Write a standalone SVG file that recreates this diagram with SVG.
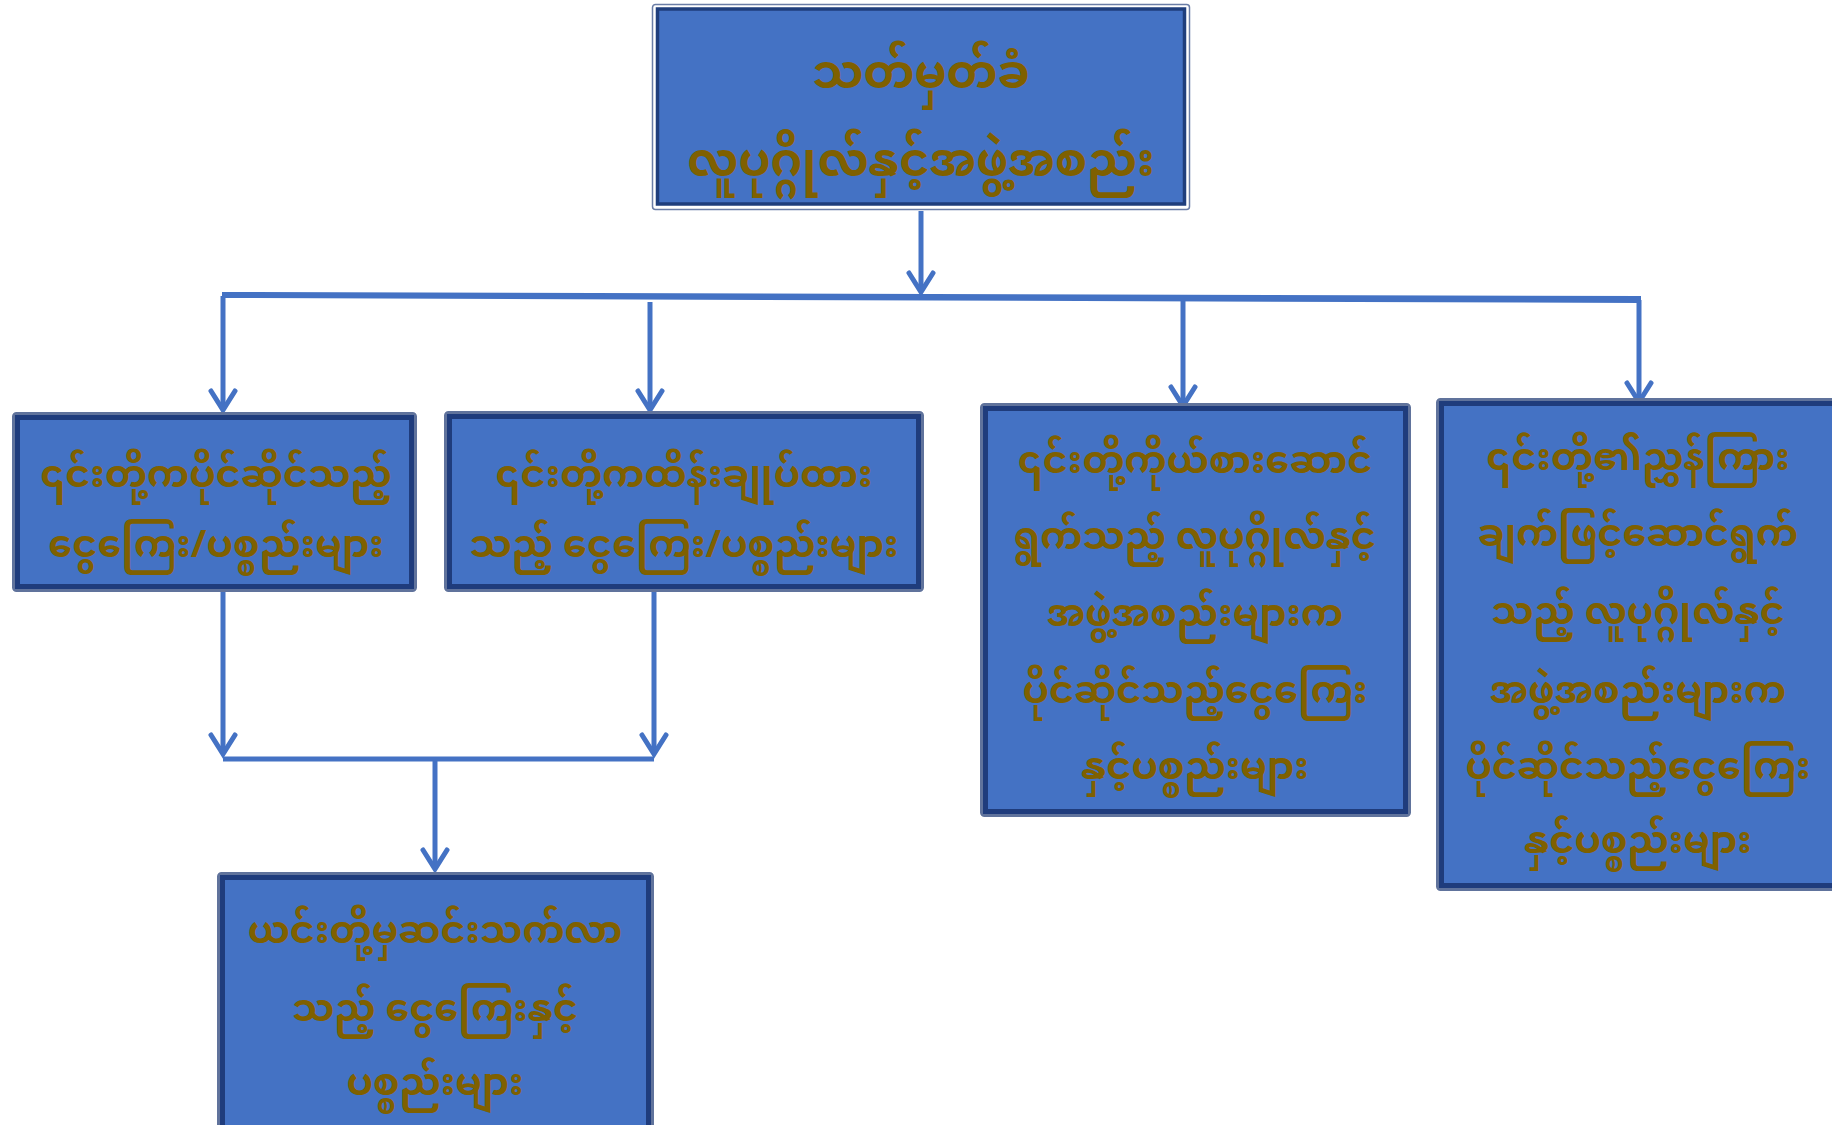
<svg xmlns="http://www.w3.org/2000/svg" width="1832" height="1125" viewBox="0 0 1832 1125">
<defs>
<style>
.outer{fill:none;stroke:#60739c;stroke-width:3}
.box{fill:#4472c4;stroke:#1f3c7c;stroke-width:5}
.t{font-family:"Noto Sans Myanmar","Padauk","Myanmar Text","Noto Sans",sans-serif;font-weight:bold;fill:#7f6000;text-anchor:middle}
.t1{font-size:38px}
.t0{font-size:46px}
.ln{fill:none;stroke:#4472c4;stroke-width:5;stroke-linecap:butt}
.ah{fill:none;stroke:#4472c4;stroke-width:5;stroke-linecap:round;stroke-linejoin:miter}
</style>
</defs>
<rect width="1832" height="1125" fill="#ffffff"/>
<g id="connectors">
<line class="ln" x1="921" y1="211" x2="921" y2="292"/>
<polyline class="ah" points="909,273 921,292 933,273"/>
<polygon points="222,292 1641,296 1641,303 222,298" fill="#4472c4"/>
<line class="ln" x1="223" y1="296" x2="223" y2="410"/>
<polyline class="ah" points="211,391 223,410 235,391"/>
<line class="ln" x1="650" y1="302" x2="650" y2="410"/>
<polyline class="ah" points="638,391 650,410 662,391"/>
<line class="ln" x1="1183" y1="300" x2="1183" y2="406"/>
<polyline class="ah" points="1171,387 1183,406 1195,387"/>
<line class="ln" x1="1639" y1="300" x2="1639" y2="402"/>
<polyline class="ah" points="1627,383 1639,402 1651,383"/>
<line class="ln" x1="223" y1="592" x2="223" y2="754"/>
<polyline class="ah" points="211,735 223,754 235,735"/>
<line class="ln" x1="654" y1="592" x2="654" y2="754"/>
<polyline class="ah" points="642,735 654,754 666,735"/>
<line class="ln" x1="223" y1="759" x2="654" y2="759"/>
<line class="ln" x1="435" y1="759" x2="435" y2="869"/>
<polyline class="ah" points="423,850 435,869 447,850"/>
</g>
<g id="top">
<rect x="652.5" y="4.5" width="537" height="205" rx="3" fill="#ffffff" stroke="#6a7da6" stroke-width="1.5"/>
<rect x="657.5" y="9" width="527" height="195" fill="#4472c4" stroke="#1f3e7c" stroke-width="3.5"/>
<text class="t t0" x="921" y="88">သတ်မှတ်ခံ</text>
<text class="t t0" x="921" y="176">လူပုဂ္ဂိုလ်နှင့်အဖွဲ့အစည်း</text>
</g>
<g id="box1">
<rect class="outer" x="13.5" y="413.5" width="402" height="177" rx="3"/>
<rect class="box" x="17.5" y="417.5" width="394" height="169"/>
<text class="t t1" x="216" y="487">၎င်းတို့ကပိုင်ဆိုင်သည့်</text>
<text class="t t1" x="216" y="557">ငွေကြေး/ပစ္စည်းများ</text>
</g>
<g id="box2">
<rect class="outer" x="445.5" y="412.5" width="477" height="178" rx="3"/>
<rect class="box" x="449.5" y="416.5" width="469" height="170"/>
<text class="t t1" x="684" y="487">၎င်းတို့ကထိန်းချုပ်ထား</text>
<text class="t t1" x="684" y="557">သည့် ငွေကြေး/ပစ္စည်းများ</text>
</g>
<g id="box3">
<rect class="outer" x="981.5" y="404.5" width="428" height="411" rx="3"/>
<rect class="box" x="985.5" y="408.5" width="420" height="403"/>
<text class="t t1" x="1195" y="473">၎င်းတို့ကိုယ်စားဆောင်</text>
<text class="t t1" x="1195" y="549">ရွက်သည့် လူပုဂ္ဂိုလ်နှင့်</text>
<text class="t t1" x="1195" y="626">အဖွဲ့အစည်းများက</text>
<text class="t t1" x="1195" y="703">ပိုင်ဆိုင်သည့်ငွေကြေး</text>
<text class="t t1" x="1195" y="779">နှင့်ပစ္စည်းများ</text>
</g>
<g id="box4">
<rect class="outer" x="1437.5" y="399.5" width="420" height="490" rx="3"/>
<rect class="box" x="1441.5" y="403.5" width="420" height="482"/>
<text class="t t1" x="1638" y="470">၎င်းတို့၏ညွှန်ကြား</text>
<text class="t t1" x="1638" y="546">ချက်ဖြင့်ဆောင်ရွက်</text>
<text class="t t1" x="1638" y="624">သည့် လူပုဂ္ဂိုလ်နှင့်</text>
<text class="t t1" x="1638" y="703">အဖွဲ့အစည်းများက</text>
<text class="t t1" x="1638" y="779">ပိုင်ဆိုင်သည့်ငွေကြေး</text>
<text class="t t1" x="1638" y="853">နှင့်ပစ္စည်းများ</text>
</g>
<g id="box5">
<rect class="outer" x="218.5" y="873.5" width="434" height="270" rx="3"/>
<rect class="box" x="222.5" y="877.5" width="426" height="262"/>
<text class="t t1" x="435" y="943">ယင်းတို့မှဆင်းသက်လာ</text>
<text class="t t1" x="435" y="1021">သည့် ငွေကြေးနှင့်</text>
<text class="t t1" x="435" y="1095">ပစ္စည်းများ</text>
</g>
</svg>
